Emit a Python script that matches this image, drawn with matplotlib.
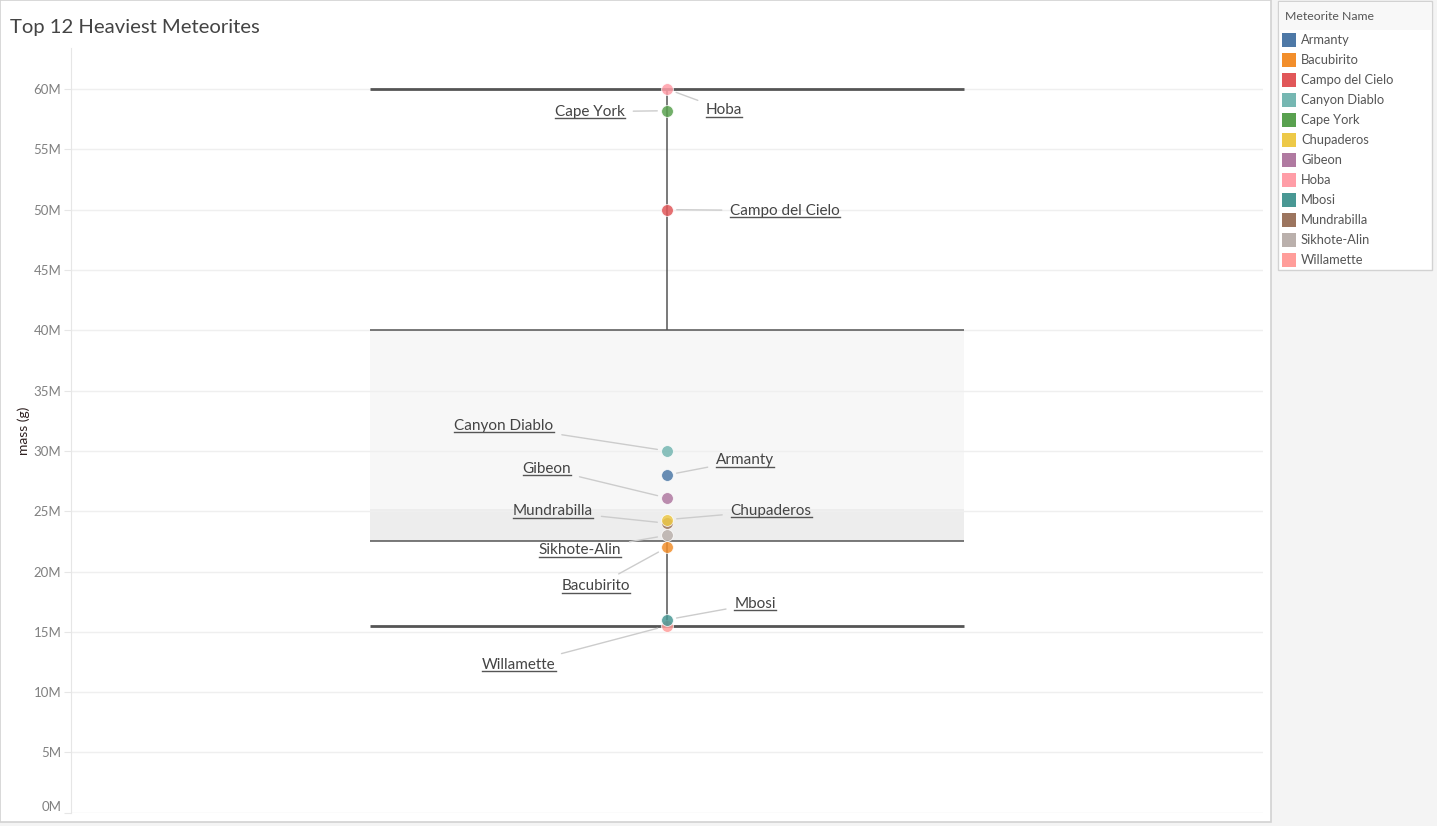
import matplotlib
matplotlib.use('Agg')
import matplotlib.pyplot as plt
import numpy as np
from matplotlib.patches import Rectangle
from matplotlib.lines import Line2D
from matplotlib.text import Text
from matplotlib.transforms import IdentityTransform

# ---------------- data ----------------
names = ['Armanty', 'Bacubirito', 'Campo del Cielo', 'Canyon Diablo', 'Cape York',
         'Chupaderos', 'Gibeon', 'Hoba', 'Mbosi', 'Mundrabilla', 'Sikhote-Alin', 'Willamette']
mass = [28.0e6, 22.0e6, 50.0e6, 30.0e6, 58.2e6,
        24.3e6, 26.1e6, 60.0e6, 16.0e6, 24.0e6, 23.0e6, 15.5e6]
colors = ['#4e79a7', '#f28e2b', '#e15759', '#76b7b2', '#59a14f',
          '#edc948', '#b07aa1', '#ff9da7', '#499894', '#9c755f', '#bab0ac', '#ff9d9a']
ytick_vals = [0, 5e6, 10e6, 15e6, 20e6, 25e6, 30e6, 35e6, 40e6, 45e6, 50e6, 55e6, 60e6]
title = 'Top 12 Heaviest Meteorites'
ylabel = 'mass (g)'
legend_title = 'Meteorite Name'

# label layout (pixel offsets of text baseline-centre from the point)
label_offsets = {
    'Hoba': (57, -25), 'Cape York': (-77, -5), 'Campo del Cielo': (118, -5),
    'Canyon Diablo': (-163, 21), 'Armanty': (78, 11), 'Gibeon': (-120, 25),
    'Mundrabilla': (-114, 8), 'Chupaderos': (104, 5), 'Sikhote-Alin': (-87, -19),
    'Bacubirito': (-71, -43), 'Mbosi': (88, 12), 'Willamette': (-148, -43),
}

FONT = ['Lato', 'DejaVu Sans']
plt.rcParams['font.family'] = FONT

W, H = 1437, 826
fig = plt.figure(figsize=(W / 100, H / 100), dpi=100)
fig.patch.set_facecolor('#f4f4f4')


def fx(x):
    return x / W


def fy(y):
    return (H - y) / H


# main white panel
fig.add_artist(Rectangle((fx(0), fy(822)), fx(1271), (822) / H, transform=fig.transFigure,
                         facecolor='white', edgecolor='#d2d2d2', lw=1.2, zorder=0))

# axes
ax = fig.add_axes([fx(71), fy(813), fx(1263) - fx(71), fy(48) - fy(813)])
ax.set_facecolor('none')
ax.set_xlim(-1, 1)
ax.set_ylim(-0.02e6, 63.4e6)

# quartiles (median of halves, Tableau-like hinges)
s = np.sort(np.array(mass))
n = len(s)
med = np.median(s)
q1 = np.median(s[: n // 2])
q3 = np.median(s[(n + 1) // 2:])
iqr = q3 - q1
whislo = s[s >= q1 - 1.5 * iqr].min()
whishi = s[s <= q3 + 1.5 * iqr].max()

bw = 0.997
ax.bar(0, q3 - med, bottom=med, width=bw, color='#f7f7f7', zorder=0.2, linewidth=0)
ax.bar(0, med - q1, bottom=q1, width=bw, color='#ededed', zorder=0.2, linewidth=0)
lc = '#555555'
ax.hlines([q1, q3], -bw / 2, bw / 2, color=lc, lw=1.1, zorder=2)
ax.hlines([whislo, whishi], -bw / 2, bw / 2, color=lc, lw=2.0, zorder=2)
ax.vlines(0, q3, whishi, color=lc, lw=1.1, zorder=2)
ax.vlines(0, whislo, q1, color=lc, lw=1.1, zorder=2)

# points (heavier drawn on top)
order = sorted(range(n), key=lambda i: mass[i])
for k, i in enumerate(order):
    ax.scatter([0], [mass[i]], s=72, color=colors[i], alpha=0.85,
               edgecolors='white', linewidths=0.6, zorder=5 + k * 0.01)

# grid / axes styling
ax.set_yticks(ytick_vals)
ax.set_yticklabels([f'{v / 1e6:.0f}M' for v in ytick_vals])
ax.set_xticks([])
ax.yaxis.grid(True, color='#efefef', lw=1)
ax.set_axisbelow(True)
for side in ['top', 'right', 'bottom']:
    ax.spines[side].set_visible(False)
ax.spines['left'].set_color('#e6e6e6')
ax.tick_params(axis='y', length=5, color='#e6e6e6', labelsize=9.5, labelcolor='#808080', pad=2)
ax.get_yticklabels()[0].set_va('bottom')
ax.set_ylabel(ylabel, fontsize=10, color='#2e2020')
ax.yaxis.set_label_coords((30 - 71) / 1192, 0.5)

# annotations
anns = []
for i, nm in enumerate(names):
    dx, dy = label_offsets[nm]
    a = ax.annotate(nm, xy=(0, mass[i]), xytext=(dx, dy), textcoords='offset pixels',
                    ha='center', va='baseline', fontsize=11, color='#444444',
                    arrowprops=dict(arrowstyle='-', color='#cccccc', lw=1,
                                    shrinkA=4, shrinkB=7), zorder=6)
    anns.append((a, i))

# title
fig.text(fx(10), fy(33), title, fontsize=14.6, color='#444444', ha='left', va='baseline')

# legend
fig.add_artist(Rectangle((fx(1278), fy(270)), fx(1432) - fx(1278), fy(1) - fy(270),
                         transform=fig.transFigure, facecolor='white',
                         edgecolor='#d2d2d2', lw=1, zorder=1))
fig.add_artist(Rectangle((fx(1279), fy(30)), fx(1431) - fx(1279), fy(2) - fy(30),
                         transform=fig.transFigure, facecolor='#f8f8f8',
                         edgecolor='none', zorder=1.5))
fig.text(fx(1285), fy(16), legend_title, fontsize=8.8, color='#555555',
         ha='left', va='center', zorder=2)
for k, nm in enumerate(names):
    yc = 40 + 20 * k
    fig.add_artist(Rectangle((fx(1282), fy(yc + 7)), fx(14), 14 / H,
                             transform=fig.transFigure, facecolor=colors[k],
                             edgecolor='none', zorder=2))
    fig.text(fx(1301), fy(yc), nm, fontsize=9.3, color='#555555',
             ha='left', va='center', zorder=2)

# underline annotation labels
fig.canvas.draw()
r = fig.canvas.get_renderer()
for a, i in anns:
    bb = Text.get_window_extent(a, r)
    px, py = ax.transData.transform((0, mass[i]))
    dx, dy = label_offsets[names[i]]
    uy = py + dy - 2.5
    fig.add_artist(Line2D([bb.x0, bb.x1], [uy, uy], transform=IdentityTransform(),
                          color='#555555', lw=1.0, zorder=7))

fig.savefig('out.png', dpi=100, facecolor=fig.get_facecolor())
